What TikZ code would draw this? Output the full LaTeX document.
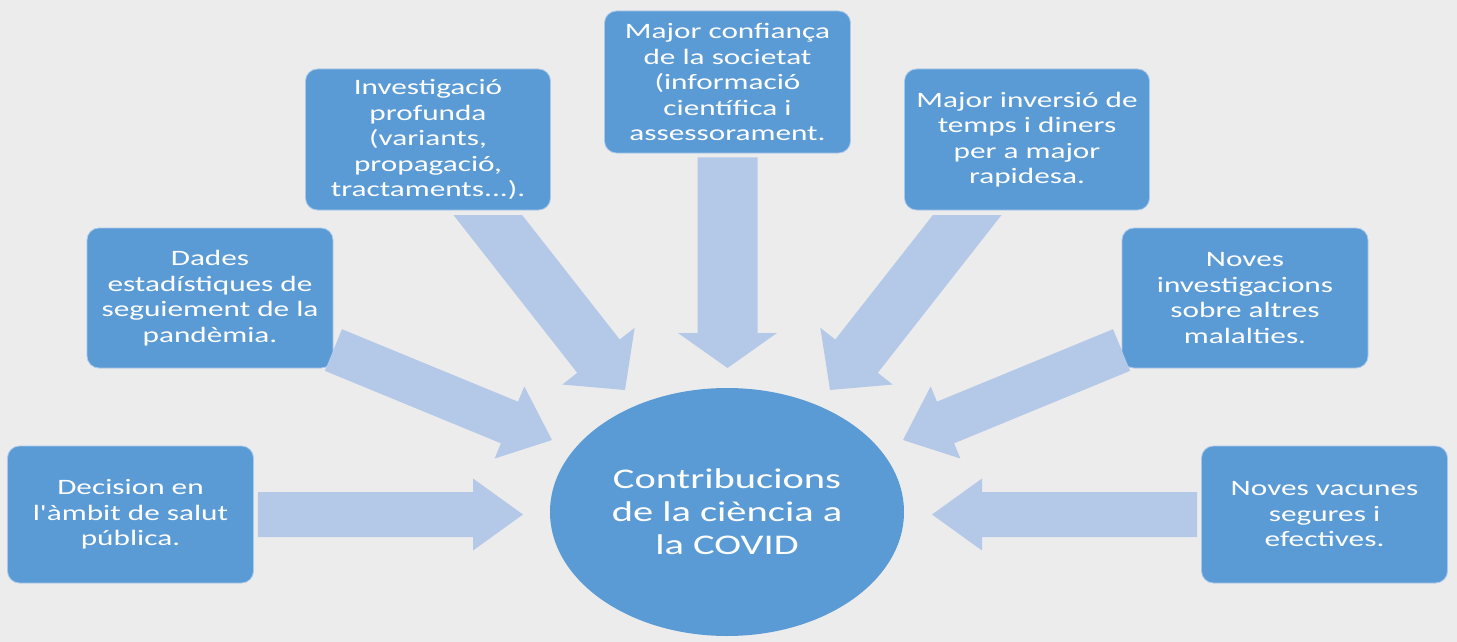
\documentclass[tikz,border=0pt]{standalone}
\usepackage{fontspec}
\usetikzlibrary{calc,shapes.geometric}
\newfontfamily\boxfont{Carlito}[FakeStretch=1.42]
\definecolor{boxblue}{HTML}{5B9BD5}
\definecolor{boxedge}{HTML}{A9C8EA}
\definecolor{arrowblue}{HTML}{B4C8E8}
\definecolor{bgcol}{HTML}{ECECEC}
\newcommand{\blockarrow}[5]{%
  \coordinate (ba) at ($(#2)!#5!(#1)$);
  \fill[arrowblue] ($(#1)!#3!90:(#2)$) -- ($(ba)!#3!90:(#2)$) -- ($(ba)!#4!90:(#2)$) -- (#2)
    -- ($(ba)!#4!-90:(#2)$) -- ($(ba)!#3!-90:(#2)$) -- ($(#1)!#3!-90:(#2)$) -- cycle;
}
\begin{document}
\begin{tikzpicture}[x=1pt,y=-1pt,
  infobox/.style={rectangle, rounded corners=12pt, fill=boxblue, draw=boxedge, line width=0.8pt,
    minimum width=246pt, minimum height=140pt, inner sep=0pt, align=center, text=white,
    font=\boxfont\fontsize{22}{25.5}\selectfont},
  hub/.style={ellipse, fill=boxblue, minimum width=354pt, minimum height=248pt, inner sep=0pt,
    align=center, text=white, font=\boxfont\fontsize{28.5}{33}\selectfont}]
\useasboundingbox (0,0) rectangle (1457,642);
\fill[bgcol] (0,0) rectangle (1457,642);

\node[hub] (hub) at (727,512) {Contribucions\\de la ciència a\\la COVID};

\node[infobox, minimum height=137pt] (n1) at (130.5,514.5) {Decision en\\l'àmbit de salut\\pública.};
\node[infobox] (n2) at (210,298) {Dades\\estadístiques de\\seguiement de la\\pandèmia.};
\node[infobox, minimum width=245pt, minimum height=141pt] (n3) at (428,139.5) {Investigació\\profunda\\(variants,\\propagació,\\tractaments...).};
\node[infobox, minimum height=142pt] (n4) at (727.5,82) {Major confiança\\de la societat\\(informació\\científica i\\assessorament.};
\node[infobox, minimum width=245pt, minimum height=141pt] (n5) at (1027,139.5) {Major inversió de\\temps i diners\\per a major\\rapidesa.};
\node[infobox] (n6) at (1245,298) {Noves\\investigacions\\sobre altres\\malalties.};
\node[infobox, minimum height=137pt] (n7) at (1324.5,514.5) {Noves vacunes\\segures i\\efectives.};

% arrow start points (at the boxes) and tips (near the hub)
\coordinate (s1) at ([xshift=4pt]n1.east);
\coordinate (t1) at (523,514.5);
\coordinate (s7) at ([xshift=-4pt]n7.west);
\coordinate (t7) at (932,514.5);
\coordinate (s2) at ([yshift=-52pt]n2.east);
\coordinate (t2) at (552,440);
\coordinate (s6) at ([yshift=-52pt]n6.west);
\coordinate (t6) at (903,440);
\coordinate (s3) at ([xshift=40.5pt,yshift=20pt]n3.south);
\coordinate (t3) at (625,390);
\coordinate (s5) at ([xshift=-40.5pt,yshift=20pt]n5.south);
\coordinate (t5) at (830,390);
\coordinate (s4) at ([yshift=-4pt]n4.south);
\coordinate (t4) at (727.5,368);

\blockarrow{s1}{t1}{22.5pt}{36pt}{50pt}
\blockarrow{s7}{t7}{22.5pt}{36pt}{50pt}
\blockarrow{s2}{t2}{22.5pt}{39pt}{46pt}
\blockarrow{s6}{t6}{22.5pt}{39pt}{46pt}
\begin{scope}
  \clip (0,215) rectangle (1457,642);
  \blockarrow{s3}{t3}{27pt}{46pt}{43pt}
  \blockarrow{s5}{t5}{27pt}{46pt}{43pt}
\end{scope}
\blockarrow{s4}{t4}{30pt}{49.5pt}{35pt}
\end{tikzpicture}
\end{document}
